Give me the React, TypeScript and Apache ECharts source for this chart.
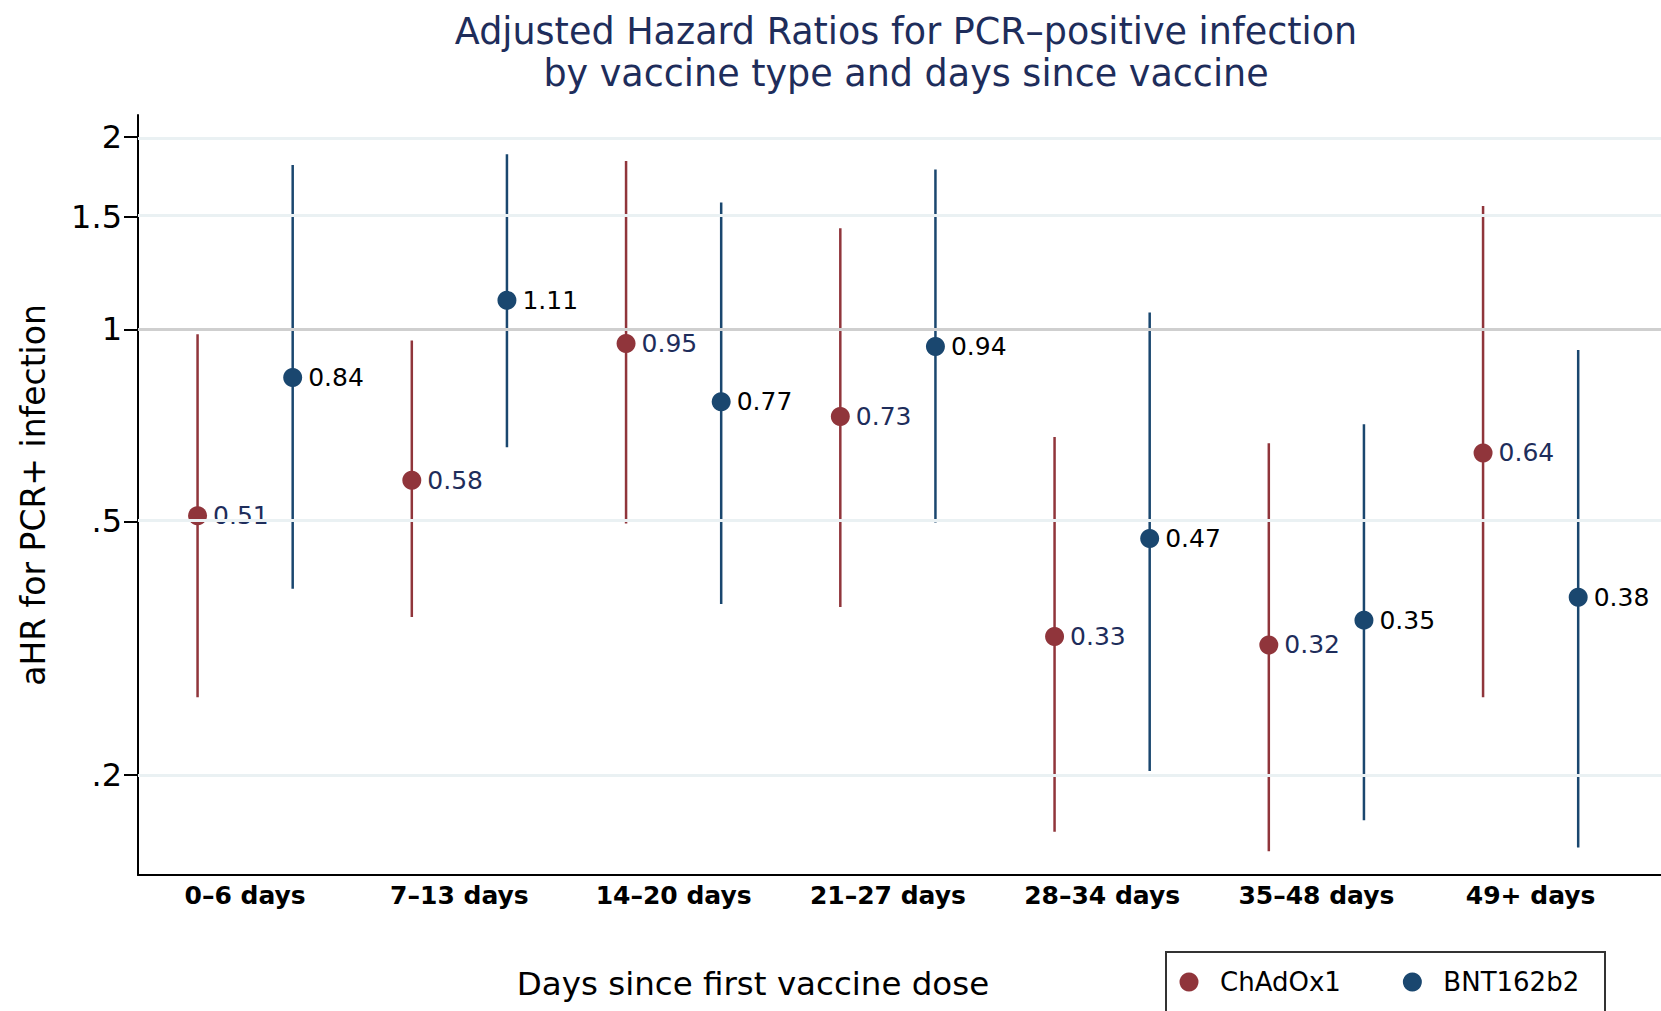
import React, { useEffect, useRef } from "react";
import * as echarts from "echarts";

// ---- Data ----
const categories = ["0–6 days", "7–13 days", "14–20 days", "21–27 days", "28–34 days", "35–48 days", "49+ days"];
const seriesNames = ["ChAdOx1", "BNT162b2"];
const chadEst = [0.51, 0.58, 0.95, 0.73, 0.33, 0.32, 0.64];
const chadLo = [0.265, 0.354, 0.496, 0.367, 0.163, 0.152, 0.265];
const chadHi = [0.982, 0.96, 1.836, 1.44, 0.678, 0.663, 1.56];
const bntEst = [0.84, 1.11, 0.77, 0.94, 0.47, 0.35, 0.38];
const bntLo = [0.392, 0.653, 0.371, 0.498, 0.203, 0.17, 0.154];
const bntHi = [1.81, 1.88, 1.58, 1.78, 1.062, 0.71, 0.928];
const yTickValues = [0.2, 0.5, 1, 1.5, 2];
const yTickLabels = [".2", ".5", "1", "1.5", "2"];
const yRange = [0.1395, 2.167];

const FONT = "DejaVu Sans";
const RED = "#90353B";
const BLUE = "#1A476F";
const NAVY = "#1E2D5B";

export default function App() {
  const ref = useRef<HTMLDivElement>(null);
  useEffect(() => {
    if (!ref.current) return;
    const chart = echarts.init(ref.current, null, { renderer: "svg" });
    const ln = Math.log;
    const off = 0.222;

    const ciData = (lo: number[], hi: number[], d: number) =>
      lo.map((l, i) => [i + d, ln(l), ln(hi[i])]);
    const ptData = (est: number[], d: number) => est.map((e, i) => [i + d, ln(e), e]);

    const ciSeries = (name: string, lo: number[], hi: number[], d: number, color: string) => ({
      type: "custom",
      name,
      z: 2,
      silent: true,
      data: ciData(lo, hi, d),
      encode: { x: 0, y: [1, 2] },
      renderItem: (_p: any, api: any) => {
        const x = api.value(0);
        const a = api.coord([x, api.value(1)]);
        const b = api.coord([x, api.value(2)]);
        return {
          type: "line",
          shape: { x1: a[0], y1: a[1], x2: b[0], y2: b[1] },
          style: { stroke: color, lineWidth: 2.5 },
        };
      },
    });

    const ptSeries = (name: string, est: number[], d: number, color: string, labelColor: string) => ({
      type: "scatter",
      name,
      z: 3,
      symbol: "circle",
      symbolSize: 19,
      itemStyle: { color, opacity: 1 },
      data: ptData(est, d),
      label: {
        show: true,
        position: "right",
        distance: 6,
        formatter: (p: any) => p.value[2].toFixed(2),
        fontFamily: FONT,
        fontSize: 25,
        color: labelColor,
      },
    });

    const gridLines = yTickValues.map((v) => ({
      yAxis: ln(v),
      lineStyle: {
        color: v === 1 ? "#CFCFCF" : "#EAF1F3",
        width: 3,
        type: "solid",
      },
    }));

    chart.setOption({
      animation: false,
      backgroundColor: "#ffffff",
      title: {
        text: "Adjusted Hazard Ratios for PCR–positive infection\nby vaccine type and days since vaccine",
        left: 906,
        top: 10,
        padding: 0,
        textAlign: "center",
        textStyle: {
          fontFamily: FONT,
          fontSize: 36.5,
          fontWeight: "normal",
          lineHeight: 42,
          color: NAVY,
        },
      },
      legend: {
        data: seriesNames,
        left: 1179.5,
        top: 969,
        padding: 0,
        icon: "circle",
        itemWidth: 52,
        itemHeight: 19,
        itemGap: 62,
        textStyle: { fontFamily: FONT, fontSize: 26, color: "#000" },
      },
      graphic: [
        {
          type: "rect",
          shape: { x: 1166, y: 952, width: 439, height: 100 },
          style: { fill: "none", stroke: "#333", lineWidth: 2 },
        },
      ],
      grid: { left: 138, top: 115, right: 0, bottom: 136, containLabel: false },
      xAxis: {
        type: "value",
        min: -0.5,
        max: 6.6085,
        name: "Days since first vaccine dose",
        nameLocation: "middle",
        nameGap: 92,
        nameTextStyle: { fontFamily: FONT, fontSize: 32.5, color: "#000", padding: [0, 293, 0, 0] },
        axisLine: { show: true, onZero: false, lineStyle: { color: "#000", width: 2 } },
        axisTick: { show: false },
        splitLine: { show: false },
        axisLabel: {
          customValues: categories.map((_, i) => i),
          formatter: (v: number) => categories[Math.round(v)] ?? "",
          fontFamily: FONT,
          fontSize: 25,
          fontWeight: "bold",
          color: "#000",
          margin: 8,
        },
      },
      yAxis: {
        type: "value",
        min: ln(yRange[0]),
        max: ln(yRange[1]),
        name: "aHR for PCR+ infection",
        nameLocation: "middle",
        nameGap: 88,
        nameTextStyle: { fontFamily: FONT, fontSize: 33, color: "#000" },
        axisLine: { show: true, onZero: false, lineStyle: { color: "#000", width: 2 } },
        axisTick: {
          show: true,
          length: 14,
          customValues: yTickValues.map((v) => ln(v)),
          lineStyle: { color: "#000", width: 2 },
        },
        splitLine: { show: false },
        axisLabel: {
          customValues: yTickValues.map((v) => ln(v)),
          formatter: (v: number) => {
            const e = Math.exp(v);
            let best = 0;
            yTickValues.forEach((t, i) => {
              if (Math.abs(t - e) < Math.abs(yTickValues[best] - e)) best = i;
            });
            return yTickLabels[best];
          },
          fontFamily: FONT,
          fontSize: 32,
          color: "#000",
          margin: 16,
        },
      },
      series: [
        {
          type: "scatter",
          name: "grid",
          z: 1,
          silent: true,
          data: [],
          markLine: {
            silent: true,
            symbol: ["none", "none"],
            label: { show: false },
            data: gridLines,
          },
        },
        ciSeries("ChAdOx1 CI", chadLo, chadHi, -off, RED),
        ciSeries("BNT162b2 CI", bntLo, bntHi, off, BLUE),
        ptSeries(seriesNames[0], chadEst, -off, RED, NAVY),
        ptSeries(seriesNames[1], bntEst, off, BLUE, "#000"),
      ],
    });
    return () => chart.dispose();
  }, []);
  return (
    <div
      ref={ref}
      style={{ position: "fixed", left: 0, top: 0, width: 1661, height: 1011, background: "#fff" }}
    />
  );
}
